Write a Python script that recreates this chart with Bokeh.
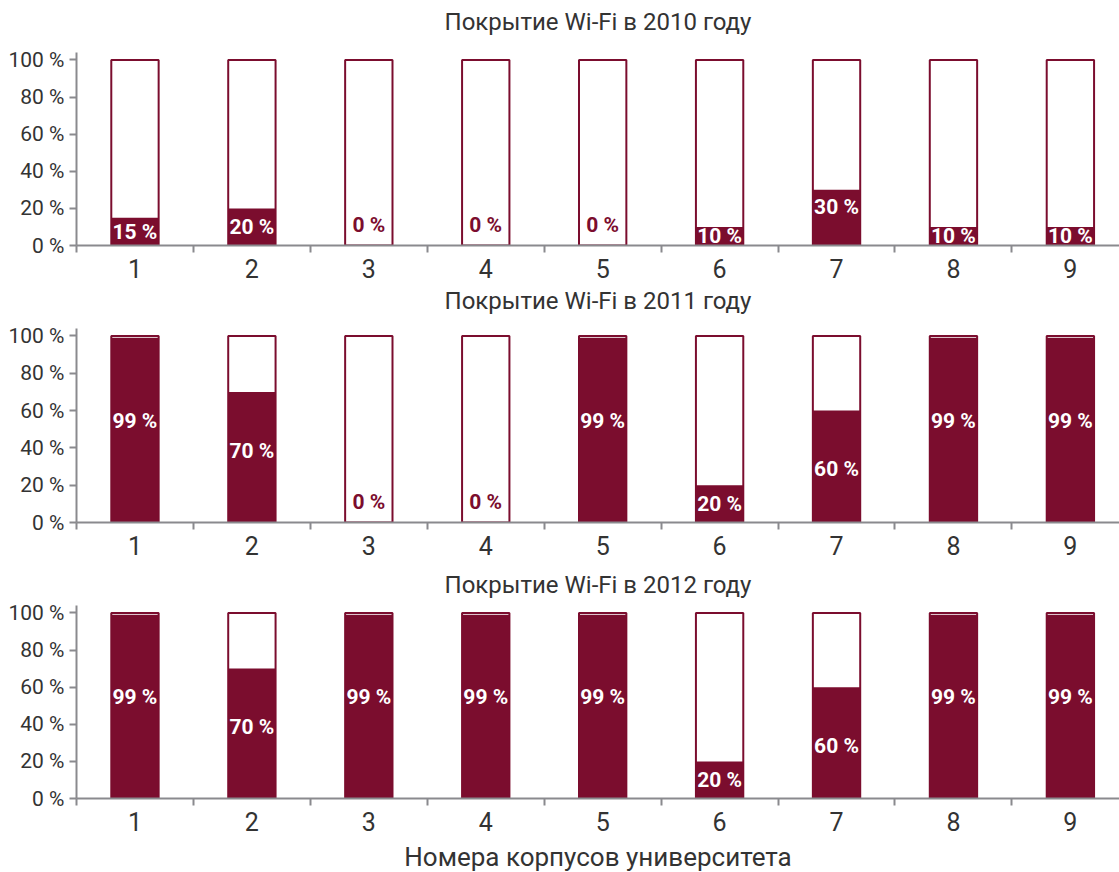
from bokeh.plotting import figure
from bokeh.layouts import column
from bokeh.models import Range1d, FixedTicker, ColumnDataSource, Title
from bokeh.core.properties import value
from bokeh.embed import file_html
from bokeh.resources import INLINE

buildings = [1, 2, 3, 4, 5, 6, 7, 8, 9]
coverage_2010 = [15, 20, 0, 0, 0, 10, 30, 10, 10]
coverage_2011 = [99, 70, 0, 0, 99, 20, 60, 99, 99]
coverage_2012 = [99, 70, 99, 99, 99, 20, 60, 99, 99]
titles = ["Покрытие Wi-Fi в 2010 году", "Покрытие Wi-Fi в 2011 году", "Покрытие Wi-Fi в 2012 году"]
y_ticks = [0, 20, 40, 60, 80, 100]
x_title = "Номера корпусов университета"

FONT = "Roboto"
RED = "#7B0D2E"
GRAY = "#8A8A8E"
TEXT = "#333333"


def label_y(v):
    if v == 0:
        return 11
    if v >= 90:
        return v * 0.55
    if v >= 50:
        return v - 31.5
    if v >= 25:
        return v - 9.5
    return max(v / 2, 5)


def make_title(text, size, standoff, valign, line_height=1.0):
    return Title(text=text, align="center", vertical_align=valign,
                 text_font=FONT, text_font_size=size, text_font_style="normal",
                 text_color=TEXT, standoff=standoff, text_line_height=line_height)


def panel(vals, top, bottom):
    h = top + 194 + bottom
    p = figure(width=1119, height=h, output_backend="svg", toolbar_location=None,
               x_range=Range1d(0.5, 9.42), y_range=Range1d(0, 104),
               min_border_left=76, min_border_right=0, min_border_top=top,
               min_border_bottom=bottom)
    p.outline_line_color = None
    p.xgrid.visible = False
    p.ygrid.visible = False

    src = ColumnDataSource(dict(
        x=buildings, v=vals, full=[100] * len(vals),
        ly=[label_y(v) for v in vals],
        txt=[f"{v} %" for v in vals],
        col=["white" if v > 0 else RED for v in vals],
    ))
    p.vbar(x="x", top="full", bottom=0, width=0.405, source=src,
           fill_color="white", line_color=RED, line_width=2)
    p.vbar(x="x", top="v", bottom=0, width=0.405, source=src,
           fill_color=RED, line_color=None)
    p.text(x="x", y="ly", text="txt", source=src, text_color="col",
           text_align="center", text_baseline="middle",
           text_font=value(FONT), text_font_size="21px", text_font_style="bold")

    ya = p.yaxis[0]
    ya.ticker = FixedTicker(ticks=y_ticks)
    ya.major_label_overrides = {t: f"{t} %" for t in y_ticks}
    ya.major_label_text_font = FONT
    ya.major_label_text_font_size = "21px"
    ya.major_label_text_color = TEXT
    ya.axis_line_color = GRAY
    ya.axis_line_width = 2
    ya.major_tick_line_color = GRAY
    ya.major_tick_line_width = 2
    ya.major_tick_out = 7
    ya.major_tick_in = 0
    ya.minor_tick_line_color = None
    ya.major_label_standoff = 5

    xa = p.xaxis[0]
    xa.ticker = FixedTicker(ticks=buildings, minor_ticks=[b - 0.5 for b in buildings] + [9.5])
    xa.major_label_text_font = FONT
    xa.major_label_text_font_size = "25px"
    xa.major_label_text_color = TEXT
    xa.axis_line_color = GRAY
    xa.axis_line_width = 2
    xa.major_tick_line_color = None
    xa.major_tick_out = 0
    xa.major_tick_in = 0
    xa.minor_tick_line_color = GRAY
    xa.minor_tick_line_width = 2
    xa.minor_tick_out = 7
    xa.minor_tick_in = 0
    xa.major_label_standoff = 6
    return p


p1 = panel(coverage_2010, 52, 76)
p1.add_layout(make_title(titles[0] + "\n", "24px", 0, "bottom", 0.6), "above")
p1.add_layout(make_title(titles[1], "24px", 12, "top"), "below")

p2 = panel(coverage_2011, 6, 39)

p3 = panel(coverage_2012, 44, 72)
p3.add_layout(make_title(titles[2], "24px", 13, "bottom"), "above")
p3.add_layout(make_title("\n" + x_title, "26px", 0, "bottom", 0.2), "below")

layout = column(p1, p2, p3, spacing=0)
open("out.html", "w").write(file_html(layout, INLINE))
